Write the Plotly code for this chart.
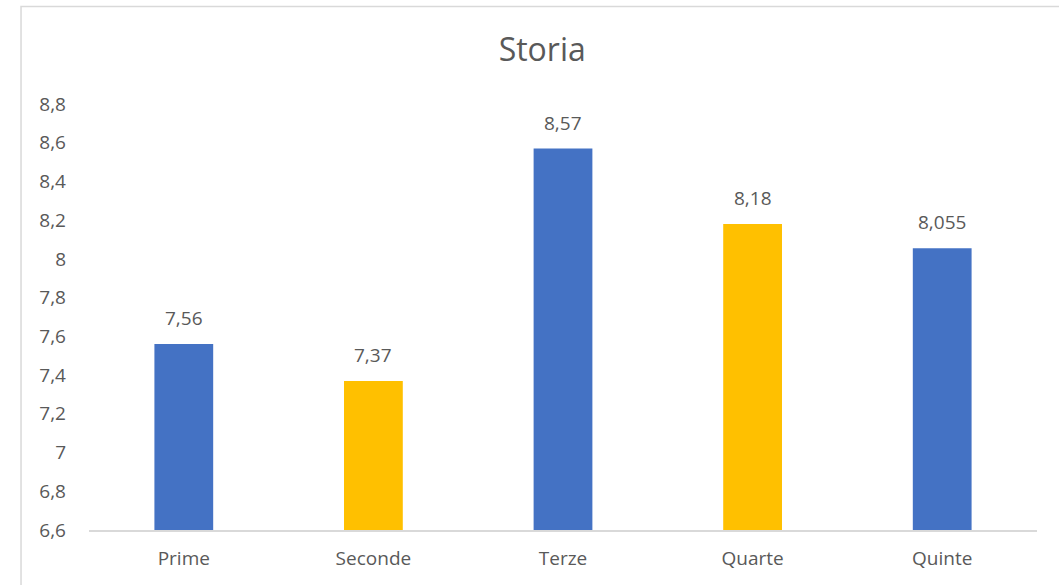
import plotly.graph_objects as go

classi = ["Prime", "Seconde", "Terze", "Quarte", "Quinte"]
voti = [7.56, 7.37, 8.57, 8.18, 8.055]
colori = ["#4472C4", "#FFC000", "#4472C4", "#FFC000", "#4472C4"]

FONT = "Open Sans, Lato, sans-serif"
GREY = "#595959"

fig = go.Figure(go.Bar(x=classi, y=voti, marker_color=colori, marker_line_width=0))

# etichette dati sopra le barre (formato italiano)
for c, v in zip(classi, voti):
    fig.add_annotation(x=c, y=v, text=f"{v:g}".replace(".", ","), showarrow=False,
                       yshift=26, font=dict(size=19, color=GREY, family=FONT))

# cornice del grafico (tagliata a destra e in basso come nell'originale)
fig.add_shape(type="rect", xref="paper", yref="paper",
              x0=-0.0717, x1=1.3, y0=-0.5, y1=1.229,
              line=dict(color="#D9D9D9", width=1.5), layer="below")

fig.update_layout(
    width=1059, height=585,
    margin=dict(l=89, r=22, t=104, b=55),
    paper_bgcolor="white", plot_bgcolor="white",
    separators=",.",
    bargap=0.69,
    showlegend=False,
    font=dict(family=FONT, color=GREY, size=19),
    title=dict(text="Storia", x=0.512, xref="container", xanchor="center",
               y=1 - 50 / 585, yref="container", yanchor="middle",
               font=dict(size=32, color=GREY, family=FONT)),
)
fig.update_yaxes(range=[6.6, 8.8], tick0=6.6, dtick=0.2, showgrid=False,
                 zeroline=False, showline=False, ticklabelstandoff=22,
                 tickfont=dict(size=19, color=GREY))
fig.update_xaxes(showline=True, linecolor="#D9D9D9", linewidth=1.5,
                 showgrid=False, ticks="", ticklabelstandoff=10,
                 tickfont=dict(size=19, color=GREY))

# niente margine della pagina, così la figura parte da (0,0)
fig.write_html("out.html", config={"displayModeBar": False},
               post_script="document.body.style.margin='0';")
